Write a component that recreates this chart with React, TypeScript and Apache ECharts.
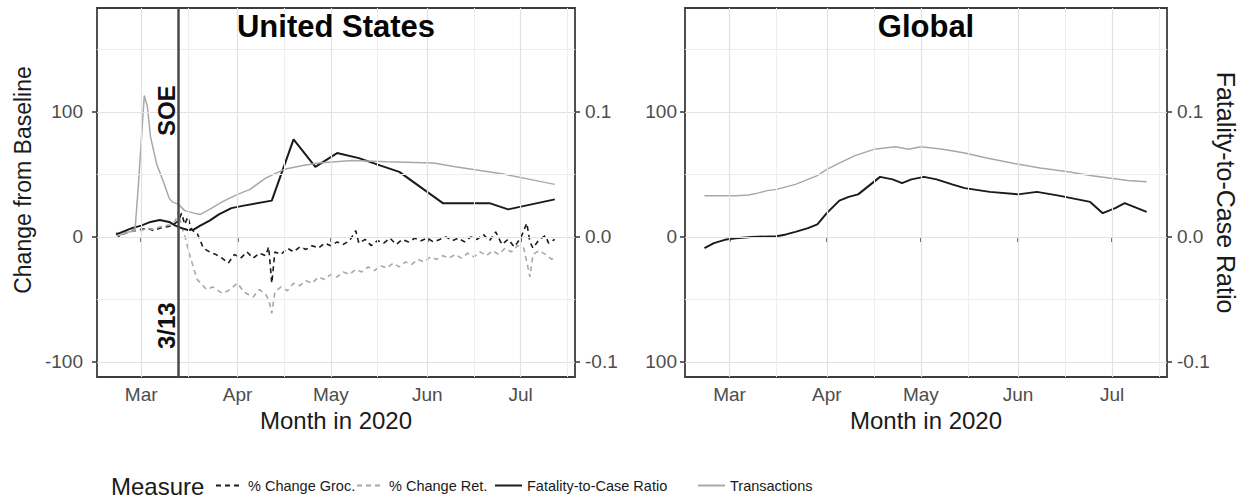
import React, { useEffect, useRef } from 'react';
import * as echarts from 'echarts';

type Pt = [string, number];

const monthNames = ['Jan', 'Feb', 'Mar', 'Apr', 'May', 'Jun', 'Jul', 'Aug', 'Sep', 'Oct', 'Nov', 'Dec'];
const monthStarts = ['2020-03-01', '2020-04-01', '2020-05-01', '2020-06-01', '2020-07-01'];
const midMonths = ['2020-03-16', '2020-04-16', '2020-05-16', '2020-06-16', '2020-07-16'];
const xRange = ['2020-02-15 19', '2020-07-18 12'];
const changeRange = [-112, 183];
const ratioRange = [-0.112, 0.183];
const changeMajor = [-100, 0, 100];
const changeMinor = [-50, 50, 150];
const ratioTicks = [-0.1, 0, 0.1];
const soeDate = '2020-03-13';

const usTransactions: Pt[] = [
  ['2020-02-22', 1], ['2020-02-24', 2], ['2020-02-26', 4], ['2020-02-28', 5], ['2020-02-29', 38],
  ['2020-03-02', 113], ['2020-03-03', 104], ['2020-03-04', 80], ['2020-03-06', 58], ['2020-03-08', 45],
  ['2020-03-10', 31], ['2020-03-11', 28], ['2020-03-13', 26], ['2020-03-15', 21], ['2020-03-18', 19],
  ['2020-03-20', 18], ['2020-03-23', 22], ['2020-03-27', 28], ['2020-04-01', 34], ['2020-04-05', 38],
  ['2020-04-10', 47], ['2020-04-16', 54], ['2020-04-22', 57], ['2020-04-27', 59], ['2020-05-08', 61],
  ['2020-05-19', 60], ['2020-06-03', 59], ['2020-06-10', 56], ['2020-06-18', 53], ['2020-06-26', 50],
  ['2020-07-04', 46], ['2020-07-12', 42],
];

const usFatality: Pt[] = [
  ['2020-02-22', 0.002], ['2020-02-24', 0.004], ['2020-02-27', 0.007], ['2020-03-01', 0.009],
  ['2020-03-04', 0.012], ['2020-03-07', 0.0135], ['2020-03-10', 0.012], ['2020-03-12', 0.009],
  ['2020-03-14', 0.007], ['2020-03-16', 0.0055], ['2020-03-18', 0.006], ['2020-03-20', 0.009],
  ['2020-03-23', 0.013], ['2020-03-26', 0.018], ['2020-03-30', 0.023], ['2020-04-03', 0.025],
  ['2020-04-12', 0.029], ['2020-04-19', 0.078], ['2020-04-26', 0.056], ['2020-05-03', 0.067],
  ['2020-05-10', 0.063], ['2020-05-17', 0.057], ['2020-05-23', 0.052], ['2020-06-06', 0.027],
  ['2020-06-21', 0.027], ['2020-06-27', 0.022], ['2020-07-12', 0.030],
];

const usGroc: Pt[] = [
  ['2020-02-22', 3], ['2020-02-23', 0], ['2020-02-24', 2], ['2020-02-26', 4], ['2020-02-28', 5],
  ['2020-03-01', 6], ['2020-03-03', 7], ['2020-03-05', 5], ['2020-03-07', 7], ['2020-03-09', 8],
  ['2020-03-11', 9], ['2020-03-12', 11], ['2020-03-13', 13], ['2020-03-14', 19], ['2020-03-15', 10],
  ['2020-03-16', 16], ['2020-03-17', 7], ['2020-03-18', 4], ['2020-03-19', 3], ['2020-03-20', -3],
  ['2020-03-21', -9], ['2020-03-23', -12], ['2020-03-25', -14], ['2020-03-27', -17], ['2020-03-29', -21],
  ['2020-03-31', -14], ['2020-04-02', -17], ['2020-04-04', -12], ['2020-04-06', -17], ['2020-04-08', -13],
  ['2020-04-10', -15], ['2020-04-11', -8], ['2020-04-12', -37], ['2020-04-13', -12], ['2020-04-15', -14],
  ['2020-04-17', -9], ['2020-04-19', -12], ['2020-04-21', -8], ['2020-04-23', -10], ['2020-04-25', -7],
  ['2020-04-27', -9], ['2020-04-29', -5], ['2020-05-01', -7], ['2020-05-03', -4], ['2020-05-05', -6],
  ['2020-05-07', -3], ['2020-05-09', 5], ['2020-05-10', -5], ['2020-05-12', -2], ['2020-05-14', -7],
  ['2020-05-16', -3], ['2020-05-18', -5], ['2020-05-20', -1], ['2020-05-22', -6], ['2020-05-24', -2],
  ['2020-05-26', -4], ['2020-05-28', -1], ['2020-05-30', -3], ['2020-06-01', -1], ['2020-06-03', -4],
  ['2020-06-05', -2], ['2020-06-07', 0], ['2020-06-09', -3], ['2020-06-11', -1], ['2020-06-13', -4],
  ['2020-06-15', 0], ['2020-06-17', -2], ['2020-06-19', 2], ['2020-06-21', -3], ['2020-06-23', 4],
  ['2020-06-25', -6], ['2020-06-27', -2], ['2020-06-29', -8], ['2020-07-01', -1], ['2020-07-02', 5],
  ['2020-07-03', 11], ['2020-07-04', -4], ['2020-07-05', -9], ['2020-07-07', -2], ['2020-07-09', 1],
  ['2020-07-10', -5], ['2020-07-12', -2],
];

const usRet: Pt[] = [
  ['2020-02-22', 4], ['2020-02-23', 1], ['2020-02-24', 2], ['2020-02-26', 5], ['2020-02-28', 6],
  ['2020-03-01', 5], ['2020-03-03', 7], ['2020-03-05', 6], ['2020-03-07', 8], ['2020-03-09', 9],
  ['2020-03-11', 10], ['2020-03-12', 13], ['2020-03-13', 20], ['2020-03-14', 8], ['2020-03-15', 1],
  ['2020-03-16', -9], ['2020-03-17', -18], ['2020-03-19', -34], ['2020-03-22', -42], ['2020-03-24', -40],
  ['2020-03-27', -45], ['2020-03-29', -43], ['2020-04-01', -37], ['2020-04-03', -44], ['2020-04-06', -48],
  ['2020-04-08', -42], ['2020-04-10', -46], ['2020-04-11', -50], ['2020-04-12', -61], ['2020-04-13', -44],
  ['2020-04-15', -40], ['2020-04-17', -43], ['2020-04-19', -37], ['2020-04-21', -39], ['2020-04-23', -35],
  ['2020-04-25', -37], ['2020-04-27', -32], ['2020-04-29', -34], ['2020-05-01', -30], ['2020-05-03', -32],
  ['2020-05-05', -28], ['2020-05-07', -30], ['2020-05-09', -26], ['2020-05-11', -28], ['2020-05-13', -24],
  ['2020-05-15', -27], ['2020-05-17', -23], ['2020-05-19', -25], ['2020-05-21', -21], ['2020-05-23', -24],
  ['2020-05-25', -20], ['2020-05-27', -22], ['2020-05-29', -18], ['2020-05-31', -20], ['2020-06-02', -16],
  ['2020-06-04', -18], ['2020-06-06', -15], ['2020-06-08', -17], ['2020-06-10', -14], ['2020-06-12', -17],
  ['2020-06-14', -13], ['2020-06-16', -16], ['2020-06-18', -12], ['2020-06-20', -15], ['2020-06-22', -11],
  ['2020-06-24', -14], ['2020-06-26', -9], ['2020-06-28', -12], ['2020-06-30', -7], ['2020-07-02', -9],
  ['2020-07-03', -20], ['2020-07-04', -32], ['2020-07-05', -14], ['2020-07-07', -11], ['2020-07-09', -14],
  ['2020-07-11', -18], ['2020-07-12', -16],
];

const globalTransactions: Pt[] = [
  ['2020-02-22', 33], ['2020-02-27', 33], ['2020-03-03', 33], ['2020-03-07', 33.5], ['2020-03-10', 35],
  ['2020-03-13', 37], ['2020-03-16', 38], ['2020-03-19', 40], ['2020-03-22', 42], ['2020-03-26', 46],
  ['2020-03-29', 49], ['2020-04-01', 54], ['2020-04-05', 59], ['2020-04-10', 65], ['2020-04-16', 70],
  ['2020-04-23', 72], ['2020-04-27', 70], ['2020-05-01', 72], ['2020-05-08', 70], ['2020-05-15', 67],
  ['2020-05-22', 63], ['2020-05-30', 59], ['2020-06-08', 55], ['2020-06-17', 52], ['2020-06-24', 49],
  ['2020-06-30', 47], ['2020-07-06', 45], ['2020-07-12', 44],
];

const globalFatality: Pt[] = [
  ['2020-02-22', -0.009], ['2020-02-25', -0.005], ['2020-02-29', -0.002], ['2020-03-03', -0.001],
  ['2020-03-08', 0.0], ['2020-03-16', 0.0005], ['2020-03-19', 0.002], ['2020-03-22', 0.004],
  ['2020-03-26', 0.007], ['2020-03-29', 0.010], ['2020-04-01', 0.019], ['2020-04-05', 0.029],
  ['2020-04-08', 0.032], ['2020-04-11', 0.034], ['2020-04-15', 0.042], ['2020-04-18', 0.048],
  ['2020-04-22', 0.046], ['2020-04-25', 0.043], ['2020-04-28', 0.046], ['2020-05-02', 0.048],
  ['2020-05-06', 0.046], ['2020-05-11', 0.042], ['2020-05-15', 0.039], ['2020-05-23', 0.036],
  ['2020-06-01', 0.034], ['2020-06-07', 0.036], ['2020-06-14', 0.033], ['2020-06-20', 0.030],
  ['2020-06-24', 0.028], ['2020-06-28', 0.019], ['2020-07-02', 0.023], ['2020-07-05', 0.027],
  ['2020-07-08', 0.024], ['2020-07-12', 0.020],
];

const FONT = '"Liberation Sans", Arial, sans-serif';
const BLACK = '#1a1a1a';
const GRAY = '#a8a8a8';

const ts = (s: string) => {
  const [datePart, hourPart] = s.split(' ');
  const [y, m, d] = datePart.split('-').map(Number);
  return new Date(y, m - 1, d, hourPart ? Number(hourPart) : 0).getTime();
};
const toData = (arr: Pt[]) => arr.map(([d, v]) => [ts(d), v]);

export default function App() {
  const ref = useRef<HTMLDivElement>(null);

  useEffect(() => {
    if (!ref.current) return;
    const chart = echarts.init(ref.current, null, { renderer: 'svg' });
    const monthTs = monthStarts.map(ts);

    const gridLines = () => [
      ...changeMajor.map((v) => ({ yAxis: v, lineStyle: { color: '#e2e2e2', width: 1.2, type: 'solid' } })),
      ...changeMinor.map((v) => ({ yAxis: v, lineStyle: { color: '#eeeeee', width: 1, type: 'solid' } })),
      ...monthStarts.map((d) => ({ xAxis: ts(d), lineStyle: { color: '#e2e2e2', width: 1.2, type: 'solid' } })),
      ...midMonths.map((d) => ({ xAxis: ts(d), lineStyle: { color: '#eeeeee', width: 1, type: 'solid' } })),
    ];

    const gridSeries = (i: number) => ({
      type: 'line',
      name: 'grid' + i,
      xAxisIndex: i,
      yAxisIndex: i * 2,
      data: [],
      silent: true,
      z: 1,
      markLine: {
        silent: true,
        symbol: ['none', 'none'],
        label: { show: false },
        emphasis: { disabled: true },
        data: gridLines(),
      },
    });

    const xAxis = (i: number) => ({
      type: 'value',
      gridIndex: i,
      min: ts(xRange[0]),
      max: ts(xRange[1]),
      axisLine: { show: false },
      axisTick: { show: true, length: 5, lineStyle: { color: '#333', width: 1.5 }, customValues: monthTs },
      axisLabel: {
        customValues: monthTs,
        formatter: (v: number) => monthNames[new Date(v).getMonth()],
        color: '#4d4d4d',
        fontSize: 19,
        fontFamily: FONT,
        margin: 8,
        hideOverlap: false,
      },
      splitLine: { show: false },
      name: 'Month in 2020',
      nameLocation: 'middle',
      nameGap: 25,
      nameTextStyle: { fontSize: 24, color: BLACK, fontFamily: FONT },
    });

    const yChange = (i: number, absLabels: boolean) => ({
      type: 'value',
      gridIndex: i,
      position: 'left',
      min: changeRange[0],
      max: changeRange[1],
      axisLine: { show: false },
      axisTick: { show: true, length: 5, lineStyle: { color: '#333', width: 1.5 }, customValues: changeMajor },
      axisLabel: {
        customValues: changeMajor,
        formatter: (v: number) => String(absLabels ? Math.abs(v) : v),
        color: '#4d4d4d',
        fontSize: 19,
        fontFamily: FONT,
        margin: absLabels ? 8 : 14,
      },
      splitLine: { show: false },
    });

    const yRatio = (i: number, name?: string) => ({
      type: 'value',
      gridIndex: i,
      position: 'right',
      min: ratioRange[0],
      max: ratioRange[1],
      axisLine: { show: false },
      axisTick: { show: true, length: 5, lineStyle: { color: '#333', width: 1.5 }, customValues: ratioTicks },
      axisLabel: {
        customValues: ratioTicks,
        formatter: (v: number) => v.toFixed(1),
        color: '#4d4d4d',
        fontSize: 19,
        fontFamily: FONT,
        margin: 10,
      },
      splitLine: { show: false },
      name: name || '',
      nameLocation: 'middle',
      nameGap: 46,
      nameRotate: -90,
      nameTextStyle: { fontSize: 25, color: BLACK, fontFamily: FONT },
    });

    const legendBase = (left: number, name: string) => ({
      left,
      top: 478,
      padding: 0,
      itemWidth: 27,
      itemHeight: 14,
      itemGap: 0,
      selectedMode: false,
      data: [name],
      itemStyle: { color: 'transparent', borderColor: 'transparent', borderWidth: 0, opacity: 0 },
      textStyle: { fontSize: 14.5, color: BLACK, fontFamily: FONT },
    });

    const option: any = {
      animation: false,
      backgroundColor: '#ffffff',
      textStyle: { fontFamily: FONT },
      title: [
        { text: 'United States', left: 336, top: 11, textAlign: 'center', padding: 0,
          textStyle: { fontSize: 31, fontWeight: 'bold', color: '#050505', fontFamily: FONT } },
        { text: 'Global', left: 926, top: 11, textAlign: 'center', padding: 0,
          textStyle: { fontSize: 31, fontWeight: 'bold', color: '#050505', fontFamily: FONT } },
      ],
      legend: [
        legendBase(215, '% Change Groc.'),
        legendBase(356, '% Change Ret.'),
        legendBase(494, 'Fatality-to-Case Ratio'),
        legendBase(697, 'Transactions'),
      ],
      grid: [
        { left: 97, top: 8, width: 478, height: 369, show: true, borderColor: '#3d3d3d', borderWidth: 1.8, backgroundColor: 'transparent' },
        { left: 685, top: 8, width: 482, height: 369, show: true, borderColor: '#3d3d3d', borderWidth: 1.8, backgroundColor: 'transparent' },
      ],
      xAxis: [xAxis(0), xAxis(1)],
      yAxis: [yChange(0, false), yRatio(0), yChange(1, true), yRatio(1, 'Fatality-to-Case Ratio')],
      series: [
        gridSeries(0),
        gridSeries(1),
        {
          type: 'line', name: '% Change Groc.', xAxisIndex: 0, yAxisIndex: 0, data: toData(usGroc),
          symbol: 'none', z: 3, lineStyle: { color: BLACK, width: 1.6, type: [5, 4] }, itemStyle: { color: BLACK },
        },
        {
          type: 'line', name: '% Change Ret.', xAxisIndex: 0, yAxisIndex: 0, data: toData(usRet),
          symbol: 'none', z: 3, lineStyle: { color: GRAY, width: 1.6, type: [5, 4] }, itemStyle: { color: GRAY },
        },
        {
          type: 'line', name: 'Fatality-to-Case Ratio', xAxisIndex: 0, yAxisIndex: 1, data: toData(usFatality),
          symbol: 'none', z: 3, lineStyle: { color: BLACK, width: 2 }, itemStyle: { color: BLACK },
        },
        {
          type: 'line', name: 'Transactions', xAxisIndex: 0, yAxisIndex: 0, data: toData(usTransactions),
          symbol: 'none', z: 3, lineStyle: { color: GRAY, width: 1.5 }, itemStyle: { color: GRAY },
        },
        {
          type: 'line', name: 'Fatality-to-Case Ratio', xAxisIndex: 1, yAxisIndex: 3, data: toData(globalFatality),
          symbol: 'none', z: 3, lineStyle: { color: BLACK, width: 2 }, itemStyle: { color: BLACK },
        },
        {
          type: 'line', name: 'Transactions', xAxisIndex: 1, yAxisIndex: 2, data: toData(globalTransactions),
          symbol: 'none', z: 3, lineStyle: { color: GRAY, width: 1.5 }, itemStyle: { color: GRAY },
        },
        {
          type: 'line', name: 'soe', xAxisIndex: 0, yAxisIndex: 0, data: [], silent: true, z: 6,
          markLine: {
            silent: true,
            symbol: ['none', 'none'],
            label: { show: false },
            emphasis: { disabled: true },
            lineStyle: { color: '#4a4a4a', width: 2.5, type: 'solid' },
            data: [{ xAxis: ts(soeDate) }],
          },
        },
      ],
    };

    chart.setOption(option);

    const soeTop = chart.convertToPixel({ xAxisIndex: 0, yAxisIndex: 0 } as any, [ts(soeDate), 101]) as number[];
    const soeBottom = chart.convertToPixel({ xAxisIndex: 0, yAxisIndex: 0 } as any, [ts(soeDate), -71]) as number[];

    chart.setOption({
      graphic: [
        {
          type: 'text', x: soeTop[0] - 12, y: soeTop[1], rotation: Math.PI / 2, z: 10,
          style: { text: 'SOE', fontSize: 24, fontWeight: 'bold', fill: '#111', align: 'center', verticalAlign: 'middle', fontFamily: FONT },
        },
        {
          type: 'text', x: soeBottom[0] - 12, y: soeBottom[1], rotation: Math.PI / 2, z: 10,
          style: { text: '3/13', fontSize: 24, fontWeight: 'bold', fill: '#111', align: 'center', verticalAlign: 'middle', fontFamily: FONT },
        },
        {
          type: 'text', x: 23, y: 180, rotation: Math.PI / 2, z: 10,
          style: { text: 'Change from Baseline', fontSize: 23, fill: BLACK, align: 'center', verticalAlign: 'middle', fontFamily: FONT },
        },
        {
          type: 'text', x: 111, y: 486, z: 10,
          style: { text: 'Measure', fontSize: 24, fill: BLACK, align: 'left', verticalAlign: 'middle', fontFamily: FONT },
        },
      ],
    });

    return () => chart.dispose();
  }, []);

  return <div ref={ref} style={{ position: 'fixed', left: 0, top: 0, width: 1251, height: 498 }} />;
}
